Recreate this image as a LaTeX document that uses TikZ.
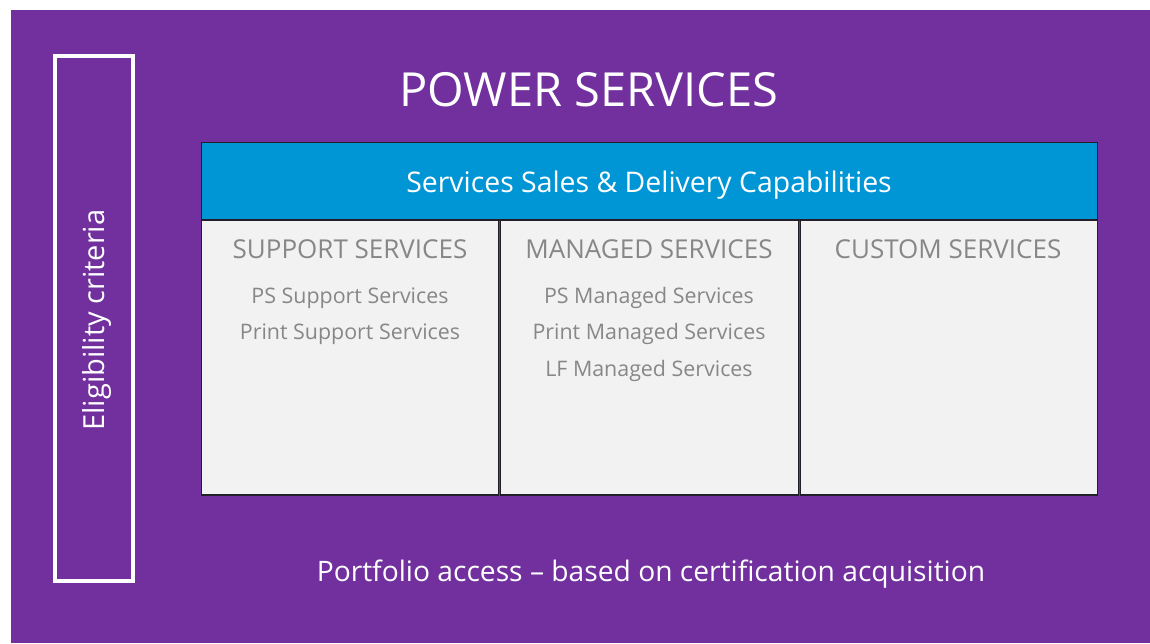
\documentclass[tikz,border=0pt]{standalone}
\usepackage{fontspec}
\setmainfont{Open Sans}
\definecolor{hppurple}{RGB}{113,48,157}
\definecolor{hpblue}{RGB}{0,150,214}
\definecolor{colfill}{RGB}{242,242,242}
\definecolor{coltext}{RGB}{135,135,135}
\definecolor{edge}{RGB}{35,31,40}
\tikzset{
  col/.style={draw=edge, line width=1.2pt, fill=colfill},
  head/.style={text=coltext, font=\fontsize{26}{29}\selectfont},
  item/.style={text=coltext, font=\fontsize{21.4}{24}\selectfont},
  wtext/.style={text=white},
}
\begin{document}
\begin{tikzpicture}[x=1pt,y=-1pt]
\useasboundingbox (0,0) rectangle (1150,643);
\fill[white] (0,0) rectangle (1150,643);
\fill[hppurple] (11,10) rectangle (1150,643);
% eligibility frame
\draw[white, line width=4pt] (54.7,56) rectangle (133.3,581.3);
\node[wtext, rotate=90, font=\fontsize{29}{32}\selectfont] (elig) at (97,320) {Eligibility criteria};
% title
\node[wtext, font=\fontsize{47}{52}\selectfont] (title) at (589,90) {POWER SERVICES};
% columns
\draw[col] (201.3,220) rectangle (498.5,495);
\draw[col] (500.5,220) rectangle (798.5,495);
\draw[col] (800.7,220) rectangle (1097.5,495);
% blue header
\draw[draw=edge, line width=1.2pt, fill=hpblue] (201.3,142.7) rectangle (1097.5,220);
\node[wtext, font=\fontsize{28.4}{32}\selectfont] (cap) at (649,185) {Services Sales \& Delivery Capabilities};
% headers
\node[head] (h1) at (350,249) {SUPPORT SERVICES};
\node[head] (h2) at (649,249) {MANAGED SERVICES};
\node[head] (h3) at (948,249) {CUSTOM SERVICES};
% items
\node[item] (s1) at (350,298) {PS Support Services};
\node[item] (s2) at (350,334) {Print Support Services};
\node[item] (m1) at (649,298) {PS Managed Services};
\node[item] (m2) at (649,334) {Print Managed Services};
\node[item] (m3) at (649,371) {LF Managed Services};
% footer
\node[wtext, font=\fontsize{28.2}{32}\selectfont] (foot) at (651,574) {Portfolio access -- based on certification acquisition};
\end{tikzpicture}
\end{document}
